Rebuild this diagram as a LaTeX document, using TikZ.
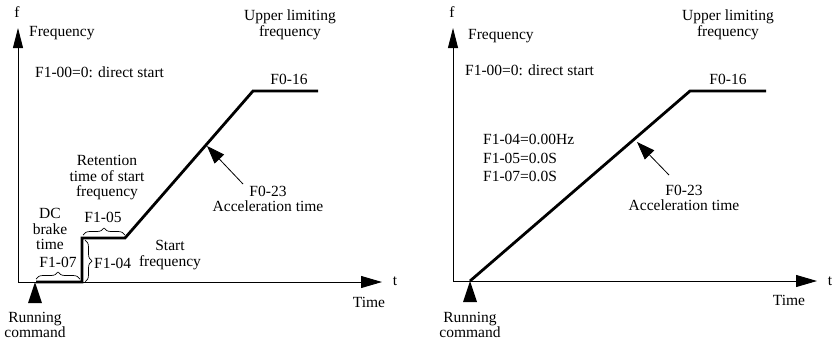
\documentclass[tikz,border=0pt]{standalone}
\usepackage{fontspec}
\setmainfont{Liberation Serif}
\usetikzlibrary{arrows.meta,decorations.pathreplacing}
\begin{document}
\begin{tikzpicture}[x=1pt,y=-1pt,
  every node/.style={inner sep=0pt,font=\fontsize{15.5}{15.5}\selectfont},
  axis/.style={line width=0.9pt,-{Triangle[length=21pt,width=12pt]}},
  yaxis/.style={line width=0.9pt,-{Triangle[length=20pt,width=10pt]}},
  curve/.style={line width=2.8pt,line join=miter},
  pointer/.style={line width=0.8pt,-{Triangle[length=18pt,width=13pt]}},
  brc/.style={line width=0.7pt,decorate,decoration={brace,amplitude=7pt}},
  runmark/.style={fill=black},
  lbl/.style={align=center}]
\useasboundingbox (0,0) rectangle (835,346);
% ---------- left diagram ----------
\coordinate (LO) at (18,282);
\coordinate (LYtop) at (18,28);
\coordinate (LXend) at (382,282);
\draw[yaxis] (LO) -- (LYtop);
\draw[axis] (LO) -- (LXend);
\node (Lf) at (17,12) {f};
\node[anchor=west] (Lfreq) at (29,33) {Frequency};
\node[anchor=west] (Lmode) at (35,72) {F1-00=0: direct start};
\node (Lt) at (395,281) {t};
\node (Ltime) at (369,302) {Time};
\coordinate (LRun) at (35,282);
\fill[runmark] (LRun) -- (28,303) -- (42,303) -- cycle;
\node[lbl] (Lruncmd) at (35,325) {Running\\command};
\coordinate (La) at (36,282);
\coordinate (Lb) at (82,282);
\coordinate (Lc) at (82,238);
\coordinate (Ld) at (125,238);
\coordinate (Le) at (253,91);
\coordinate (Lg) at (318,91);
\draw[curve] (La) -- (Lb) -- (Lc) -- (Ld) -- (Le) -- (Lg);
\node[lbl] (Lupper) at (290,25) {Upper limiting\\frequency};
\node (Lf016) at (289,79) {F0-16};
\coordinate (LPtail) at (243,184);
\coordinate (LPtip) at (207,146);
\draw[pointer] (LPtail) -- (LPtip);
\node[lbl] (Lacc) at (268,199) {F0-23\\Acceleration time};
% braces
\coordinate (B7a) at (36,279);
\coordinate (B7b) at (80,279);
\draw[brc] (B7a) -- (B7b);
\node (Lf107) at (58,262) {F1-07};
\node[lbl] (Ldc) at (50,229) {DC\\brake\\time};
\coordinate (B5a) at (83,235);
\coordinate (B5b) at (125,235);
\draw[brc] (B5a) -- (B5b);
\node (Lf105) at (103,217) {F1-05};
\node[lbl] (Lret) at (107,178) {Retention\\time of start\\frequency};
\coordinate (B4a) at (85,240);
\coordinate (B4b) at (85,282);
\draw[brc] (B4a) -- (B4b);
\node[anchor=west] (Lf104) at (94,263) {F1-04};
\node[lbl] (Lstart) at (170,255) {Start\\frequency};
% ---------- right diagram ----------
\coordinate (RO) at (453,281);
\coordinate (RYtop) at (453,28);
\coordinate (RXend) at (817,281);
\draw[yaxis] (RO) -- (RYtop);
\draw[axis] (RO) -- (RXend);
\node (Rf) at (452,12) {f};
\node[anchor=west] (Rfreq) at (468,36) {Frequency};
\node[anchor=west] (Rmode) at (465,70) {F1-00=0: direct start};
\node[anchor=west,align=left,font=\fontsize{15.5}{18.5}\selectfont] (Rpar) at (483,158) {F1-04=0.00Hz\\F1-05=0.0S\\F1-07=0.0S};
\node (Rt) at (830,281) {t};
\node (Rtime) at (789,300) {Time};
\coordinate (RRun) at (470,281);
\fill[runmark] (RRun) -- (463,302) -- (477,302) -- cycle;
\node[lbl] (Rruncmd) at (470,325) {Running\\command};
\coordinate (Ra) at (470,281);
\coordinate (Rb) at (690,91);
\coordinate (Rc) at (766,91);
\draw[curve] (Ra) -- (Rb) -- (Rc);
\node[lbl] (Rupper) at (728,25) {Upper limiting\\frequency};
\node (Rf016) at (728,79) {F0-16};
\coordinate (RPtail) at (669,175);
\coordinate (RPtip) at (637,142);
\draw[pointer] (RPtail) -- (RPtip);
\node[lbl] (Racc) at (684,198) {F0-23\\Acceleration time};
\end{tikzpicture}
\end{document}
